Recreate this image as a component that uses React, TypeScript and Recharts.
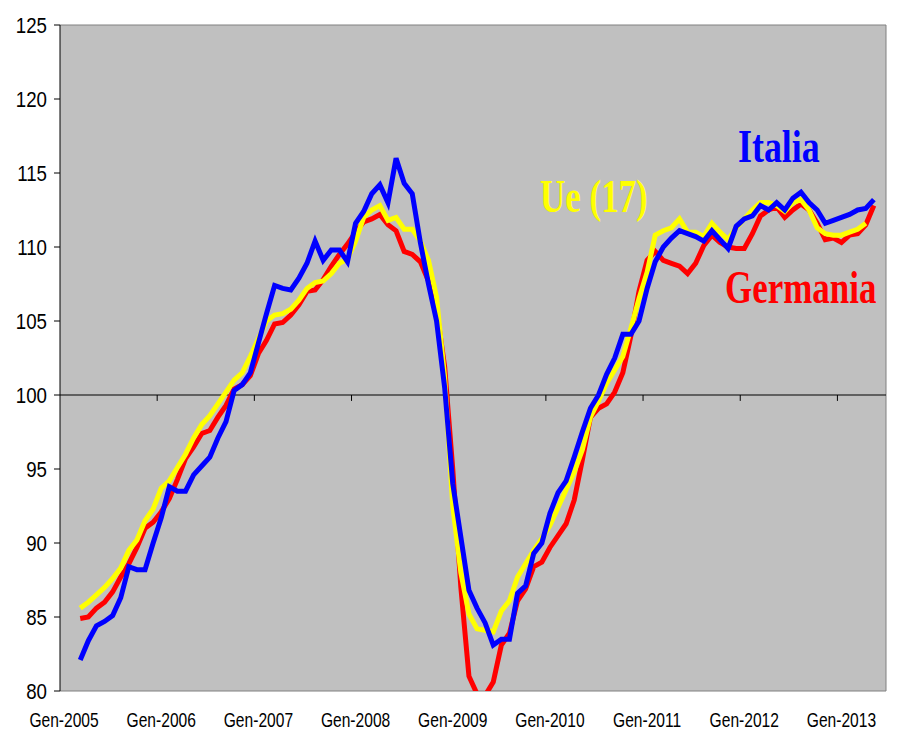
import { LineChart, Line, XAxis, YAxis, CartesianGrid, ReferenceLine } from 'recharts'

// monthly index values, first point = Mar 2005 (month index 2 from Gen-2005)
const firstMonth = 2

const italia = [
  82.1, 83.4, 84.4, 84.7, 85.1, 86.3, 88.4, 88.2, 88.2, 90.0,
  91.7, 93.8, 93.5, 93.5, 94.6, 95.2, 95.8, 97.1, 98.2, 100.3,
  100.7, 101.5, 103.5, 105.5, 107.4, 107.2, 107.1, 107.9, 108.9, 110.4,
  109.1, 109.8, 109.8, 109.0, 111.6, 112.4, 113.6, 114.2, 113.0, 116.0,
  114.3, 113.6, 110.3, 107.5, 105.0, 100.5, 94.0, 90.4, 86.8, 85.6,
  84.6, 83.1, 83.5, 83.5, 86.6, 87.1, 89.3, 90.0, 92.0, 93.4,
  94.2, 95.8, 97.5, 99.1, 100.0, 101.4, 102.5, 104.1, 104.1, 105.0,
  107.2, 109.0, 110.0, 110.6, 111.1, 110.9, 110.7, 110.4, 111.1, 110.5,
  109.9, 111.4, 111.9, 112.1, 112.8, 112.5, 113.0, 112.5, 113.3, 113.7,
  113.0, 112.5, 111.6, 111.8, 112.0, 112.2, 112.5, 112.6, 113.2,
]

const ue17 = [
  85.6, 86.0, 86.5, 87.0, 87.6, 88.3, 89.5, 90.2, 91.5, 92.3,
  93.7, 94.2, 95.1, 96.0, 97.1, 98.0, 98.6, 99.4, 100.2, 101.0,
  101.5, 102.6, 103.8, 105.0, 105.4, 105.5, 105.8, 106.4, 107.2, 107.6,
  107.7, 108.2, 108.9, 109.2, 110.4, 112.0, 112.5, 112.8, 111.8, 112.0,
  111.2, 111.2, 110.4, 109.1, 106.6, 101.2, 92.5, 88.0, 85.2, 84.2,
  84.1, 84.0, 85.4, 86.1, 87.7, 88.6, 89.5, 90.3, 91.2, 92.4,
  93.6, 94.8, 96.3, 98.5, 99.6, 100.8, 101.7, 102.6, 104.5, 106.5,
  108.3, 110.8, 111.1, 111.3, 111.9, 111.0, 111.0, 110.7, 111.6, 111.0,
  110.5, 111.3, 111.9, 112.5, 113.0, 113.0, 112.8, 112.4, 113.0, 113.2,
  112.5, 111.3, 110.9, 110.8, 110.8, 111.0, 111.2, 111.6,
]

const germania = [
  84.9, 85.0, 85.6, 86.0, 86.7, 87.7, 88.6, 89.7, 91.0, 91.4,
  92.1, 93.0, 94.3, 95.7, 96.5, 97.4, 97.6, 98.5, 99.3, 100.4,
  100.7, 101.3, 102.8, 103.7, 104.8, 104.9, 105.4, 106.1, 107.0, 107.1,
  107.8, 108.7, 109.5, 110.2, 111.0, 111.7, 111.9, 112.2, 111.5, 111.1,
  109.7, 109.5, 109.0, 107.7, 105.8, 101.9, 95.0, 87.0, 81.0, 79.8,
  79.7, 80.6, 83.1, 83.9, 86.1, 86.9, 88.4, 88.7, 89.7, 90.5,
  91.3, 92.9, 95.6, 98.5, 99.1, 99.4, 100.2, 101.5, 104.0, 107.0,
  109.1, 109.7, 109.1, 108.9, 108.7, 108.2, 108.9, 110.1, 110.8, 110.3,
  110.0, 109.9, 109.9, 110.9, 112.1, 112.5, 112.7, 112.0, 112.5, 112.9,
  112.5, 111.6, 110.5, 110.6, 110.3, 110.8, 110.9, 111.5, 112.8,
]

const yearLabels = ['Gen-2005', 'Gen-2006', 'Gen-2007', 'Gen-2008', 'Gen-2009', 'Gen-2010', 'Gen-2011', 'Gen-2012', 'Gen-2013']
const yTicks = [80, 85, 90, 95, 100, 105, 110, 115, 120, 125]

const data = italia.map((v, k) => ({
  m: k + firstMonth,
  italia: v,
  ue17: ue17[k] ?? null,
  germania: germania[k] ?? null,
}))

const labelTicks = yearLabels.map((_, i) => i * 12)
const yearMarks = yearLabels.slice(1).map((_, i) => (i + 1) * 12 - 0.5)

const sans = 'Liberation Sans, Arial, sans-serif'
const serif = 'Liberation Serif, Times New Roman, serif'

const YTick = ({ x, y, payload }: any) => (
  <text transform={`translate(${x},${y}) scale(0.85,1)`} textAnchor="end" dy="0.36em"
    fontSize={22} fontFamily={sans} fill="#000">{payload.value}</text>
)

const XTick = ({ x, y, payload }: any) => (
  <text transform={`translate(${x},${y}) scale(0.78,1)`} textAnchor="middle" dy={28}
    fontSize={20} fontFamily={sans} fill="#000">{yearLabels[payload.value / 12]}</text>
)

// series name labels, bold serif squeezed horizontally
const SeriesLabel = ({ x, y, sx, color, children }: any) => (
  <text transform={`translate(${x},${y}) scale(${sx},1)`} fontSize={46} fontWeight="bold"
    fontFamily={serif} fill={color}>{children}</text>
)

export default function App() {
  return (
    <div style={{ position: 'absolute', left: 0, top: 0, width: 905, height: 733, background: '#fff' }}>
      <LineChart width={905} height={733} data={data} margin={{ top: 25, right: 19, bottom: 0, left: 0 }}>
        <CartesianGrid fill="#C0C0C0" fillOpacity={1} horizontal={false} vertical={false} />
        <XAxis dataKey="m" type="number" domain={[-0.5, 101.5]} ticks={labelTicks} interval={0}
          axisLine={false} tickLine={false} height={42} tick={<XTick />} allowDataOverflow />
        <YAxis domain={[80, 125]} ticks={yTicks} interval={0} width={60} allowDataOverflow
          axisLine={{ stroke: '#000' }} tickLine={{ stroke: '#000' }} tickSize={6} tickMargin={7} tick={<YTick />} />
        <ReferenceLine y={125} stroke="#808080" />
        <ReferenceLine y={80} stroke="#808080" />
        <ReferenceLine x={101.5} stroke="#808080" />
        <ReferenceLine y={100} stroke="#000" />
        {yearMarks.map(m => (
          <ReferenceLine key={m} segment={[{ x: m, y: 100 }, { x: m, y: 99.6 }]} stroke="#000" />
        ))}
        <Line dataKey="germania" stroke="#FF0000" strokeWidth={5} dot={false} isAnimationActive={false} />
        <Line dataKey="ue17" stroke="#FFFF00" strokeWidth={5} dot={false} isAnimationActive={false} />
        <Line dataKey="italia" stroke="#0000FF" strokeWidth={5} dot={false} isAnimationActive={false} />
      </LineChart>
      <svg width={905} height={733} style={{ position: 'absolute', left: 0, top: 0, pointerEvents: 'none' }}>
        <SeriesLabel x={738} y={162} sx={0.78} color="#0000FF">Italia</SeriesLabel>
        <SeriesLabel x={540} y={212} sx={0.76} color="#FFFF00">Ue (17)</SeriesLabel>
        <SeriesLabel x={725} y={303} sx={0.76} color="#FF0000">Germania</SeriesLabel>
      </svg>
    </div>
  )
}
